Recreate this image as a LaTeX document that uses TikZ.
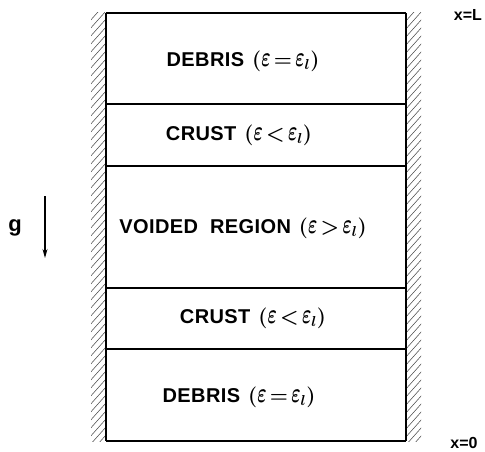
\documentclass[tikz,border=0pt]{standalone}
\usepackage{fontspec}
\setmainfont{Liberation Sans}
\usepackage{graphicx}
\usetikzlibrary{arrows.meta}
\tikzset{
  wall/.style={line width=1.7pt},
  band/.style={line width=1.6pt},
  hatch/.style={line width=0.5pt, black!75},
  layerlabel/.style={font=\fontsize{20}{22}\selectfont\bfseries\addfontfeature{LetterSpace=2}, inner sep=0pt},
  endlabel/.style={font=\fontsize{16}{17}\selectfont\bfseries, inner sep=0pt},
}
% tall, narrow epsilon
\newcommand{\eps}{\mathord{\scalebox{0.85}[1.35]{$\varepsilon$}}}
% condition in parentheses after a layer name
\newcommand{\cond}[1]{\hspace{8pt}{\fontsize{19.5}{21}\selectfont\boldmath$\thickmuskip=2.5mu(#1)$}}
\begin{document}
\begin{tikzpicture}[x=1pt,y=-1pt]
\useasboundingbox (0,0) rectangle (485,452);

% hatched side walls
\begin{scope}
  \clip (91,13) rectangle (106,441);
  \foreach \k in {0,...,56} {
    \draw[hatch] (89,22+8*\k) -- (106,3+8*\k);
  }
\end{scope}
\begin{scope}
  \clip (406,13) rectangle (421,441);
  \foreach \k in {0,...,56} {
    \draw[hatch] (405,22+8*\k) -- (422,3+8*\k);
  }
\end{scope}

% column outline and layer boundaries
\coordinate (tl) at (106,13);
\coordinate (tr) at (406,13);
\coordinate (bl) at (106,441);
\coordinate (br) at (406,441);
\draw[wall] (tl) -- (bl);
\draw[wall] (tr) -- (br);
\draw[band] (tl) -- (tr);
\draw[band] (bl) -- (br);
\foreach \yy in {104,166,288,349} {
  \draw[band] (106,\yy) -- (406,\yy);
}

% layer labels
\node[layerlabel] (debtop) at (243,61) {DEBRIS\cond{\eps=\eps_l}};
\node[layerlabel] (crusttop) at (239,135) {CRUST\cond{\eps<\eps_l}};
\node[layerlabel] (void) at (243,228) {VOIDED\hspace{12pt}REGION\cond{\eps>\eps_l}};
\node[layerlabel] (crustbot) at (253,318) {CRUST\cond{\eps<\eps_l}};
\node[layerlabel] (debbot) at (239,397) {DEBRIS\cond{\eps=\eps_l}};

% gravity
\node[font=\fontsize{22}{24}\selectfont\bfseries, inner sep=0pt] (g) at (15,228) {g};
\coordinate (gtop) at (45,196);
\coordinate (gbot) at (45,258);
\draw[line width=1.1pt, -{Stealth[length=9pt,width=5pt]}] (gtop) -- (gbot);

% axis ends
\node[endlabel] (xL) at (468,15) {x=L};
\node[endlabel] (x0) at (464,443) {x=0};
\end{tikzpicture}
\end{document}
